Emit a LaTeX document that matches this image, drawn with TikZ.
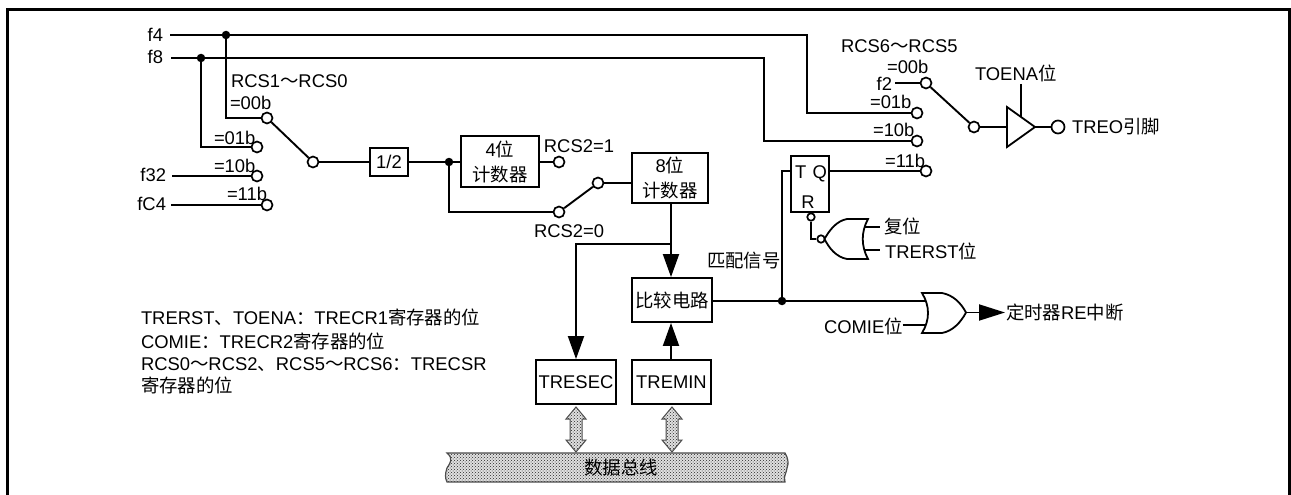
\documentclass[tikz,border=0pt]{standalone}
\usepackage{fontspec}
\setmainfont{Liberation Sans}
\newfontfamily\cjk{Noto Sans CJK SC}
\newcommand\zh[1]{{\cjk #1}}
\usetikzlibrary{arrows.meta,patterns}
\tikzset{
  x=1pt,y=-1pt,
  wire/.style={line width=1.9pt,line join=miter},
  lbl/.style={inner sep=0pt,outer sep=0pt,font=\fontsize{18.4}{25}\selectfont},
  lw/.style={lbl,anchor=base west},
  le/.style={lbl,anchor=base east},
  sw/.style={circle,draw,line width=1.7pt,fill=white,inner sep=0pt,minimum size=11pt},
  swsmall/.style={circle,draw,line width=1.7pt,fill=white,inner sep=0pt,minimum size=7.5pt},
  swbig/.style={circle,draw,line width=1.7pt,fill=white,inner sep=0pt,minimum size=13pt},
  dot/.style={circle,fill=black,inner sep=0pt,minimum size=8.5pt},
  jn/.style={inner sep=0pt,minimum size=0pt,outer sep=0pt},
  blk/.style={draw,line width=1.9pt,fill=white,inner sep=0pt,align=center,font=\fontsize{18.4}{25}\selectfont},
  head/.style={-{Triangle[width=16pt,length=23pt]}},
  dots/.style={draw=black!70,line width=1.2pt,preaction={fill=black!12},pattern=crosshatch dots,pattern color=black!85},
}
\begin{document}
\begin{tikzpicture}
\useasboundingbox (0,0) rectangle (1291,495);
\fill[white] (0,0) rectangle (1291,495);
\draw[line width=3pt,miter limit=10] (7.5,495) -- (7.5,9.5) -- (1289.8,9.5) -- (1289.8,495);

% clock inputs
\node[le] (tf4) at (163,42) {f4};
\node[le] (tf8) at (163,64) {f8};
\node[le] (tf32) at (166,181) {f32};
\node[le] (tfc4) at (166,210) {fC4};
\coordinate (f4s) at (170,35);
\coordinate (f8s) at (171,58);
\coordinate (f4a) at (807,35);
\coordinate (f8a) at (764,58);
\node[dot] (d4) at (226,35) {};
\node[dot] (d8) at (201,58) {};

% first selector
\node[sw] (a00) at (267,118) {};
\node[sw] (a01) at (257,147) {};
\node[sw] (a10) at (257,176) {};
\node[sw] (a11) at (267,205) {};
\node[sw] (acom) at (313,162) {};
\coordinate (s32) at (172,176);
\coordinate (sc4) at (171,205);
\draw[wire] (f4s) -- (d4);
\draw[wire] (f8s) -- (d8);
\draw[wire] (d4) |- (a00);
\draw[wire] (d8) |- (a01);
\draw[wire] (s32) -- (a10);
\draw[wire] (sc4) -- (a11);
\draw[wire] (a00) -- (acom);
\node[lw] (l1) at (231,88) {RCS1\zh{～}RCS0};
\node[lw] (l2) at (230,110) {=00b};
\node[lw] (l3) at (214,144) {=01b};
\node[lw] (l4) at (214,172) {=10b};
\node[lw] (l5) at (227,200) {=11b};

% divider and counters
\node[blk,minimum width=38pt,minimum height=28pt] (half) at (389,162) {1/2};
\node[dot] (d2) at (449,162) {};
\node[blk,minimum width=78pt,minimum height=51pt] (c4) at (500,161.5) {4\zh{位}\\\zh{计数器}};
\node[sw] (r1) at (559,162) {};
\node[le] (lr1) at (614,152) {RCS2=1};
\node[sw] (r0) at (559,212) {};
\node[sw] (rc) at (598,183) {};
\node[lw] (lr0) at (534,237) {RCS2=0};
\node[blk,minimum width=76pt,minimum height=50pt] (c8) at (670,178) {8\zh{位}\\\zh{计数器}};
\draw[wire] (acom) -- (half);
\draw[wire] (half) -- (d2);
\draw[wire] (d2) -- (c4.west |- d2);
\draw[wire] (c4.east |- r1) -- (r1);
\draw[wire] (d2) |- (r0);
\draw[wire] (r0) -- (rc);
\draw[wire] (rc) -- (c8.west |- rc);

% compare circuit
\node[blk,minimum width=80pt,minimum height=44pt] (cmp) at (672,300) {\zh{比较电路}};
\node[blk,minimum width=80pt,minimum height=44pt] (sec) at (576,382) {TRESEC};
\node[blk,minimum width=79pt,minimum height=44pt] (min) at (671.5,382) {TREMIN};
\coordinate (br) at (671,244);
\draw[wire,head] (c8.south -| br) -- (cmp.north -| br);
\draw[wire,head] (br) -| (sec.north);
\draw[wire,head] (min.north -| br) -- (cmp.south -| br);
\node[lw] (lm) at (707,267) {\zh{匹配信号}};

% data bus
\draw[dots] (447,453) .. controls (454,459) and (450,463) .. (447,468) .. controls (445,474) and (445,478) .. (447,482)
  -- (785,482) .. controls (783,476) and (787,472) .. (787,468) .. controls (789,463) and (788,458) .. (785,453) -- cycle;
\node[lbl] (bus) at (621,468) {\zh{数据总线}};
\draw[dots,line width=1pt] (576,407) -- (586,419) -- (582,419) -- (582,440) -- (586,440) -- (576,452)
  -- (566,440) -- (570,440) -- (570,419) -- (566,419) -- cycle;
\draw[dots,line width=1pt] (672,407) -- (682,419) -- (678,419) -- (678,440) -- (682,440) -- (672,452)
  -- (662,440) -- (666,440) -- (666,419) -- (662,419) -- cycle;

% flip-flop
\node[draw,line width=1.9pt,fill=white,minimum width=38pt,minimum height=56pt,inner sep=0pt] (ff) at (810,184) {};
\node[lw] (lt) at (795,178) {T};
\node[le] (lq) at (827,178) {Q};
\node[lbl] (lrr) at (808,202) {R};
\node[swsmall] (ffr) at (811,217) {};
\node[swsmall] (nr) at (821,239) {};
\node[dot] (d3) at (782,301) {};
\coordinate (ffT) at (791,171);
\coordinate (ffQ) at (829,171);
\draw[wire] (cmp.east |- d3) -- (d3);
\draw[wire] (d3) |- (ffT);
\draw[wire] (ffr) |- (nr);

% NOR gate
\draw[line width=1.8pt,fill=white] (868,219) -- (847,219) .. controls (836,221) and (829,231) .. (824.5,239)
  .. controls (829,248) and (836,257) .. (847,259) -- (868,259)
  .. controls (861,246) and (861,232) .. (868,219) -- cycle;
\coordinate (n1) at (864,227);
\coordinate (n2) at (864,250);
\coordinate (n1e) at (880,227);
\coordinate (n2e) at (880,250);
\draw[wire] (n1) -- (n1e);
\draw[wire] (n2) -- (n2e);
\node[lw] (lrst) at (884,233) {\zh{复位}};
\node[lw] (ltr) at (885,258) {TRERST\zh{位}};

% OR gate
\coordinate (o1) at (925,301);
\coordinate (o2) at (925,325);
\coordinate (oo) at (966,312.5);
\draw[wire] (d3) -- (o1);
\node[lw] (lc) at (824,333) {COMIE\zh{位}};
\draw[wire] (lc.east |- o2) -- (o2);
\draw[line width=1.8pt,fill=white] (922,293) -- (942,293) .. controls (953,295) and (961,303) .. (966,312.5)
  .. controls (961,322) and (953,331) .. (942,333) -- (922,333)
  .. controls (930,320) and (930,306) .. (922,293) -- cycle;
\coordinate (oe) at (1005,312.5);
\draw[wire,-{Triangle[width=16pt,length=26pt]}] (oo) -- (oe);
\node[lw] (lint) at (1006,319) {\zh{定时器}RE\zh{中断}};

% output selector
\node[lw] (l6) at (841,53) {RCS6\zh{～}RCS5};
\node[lw] (l7) at (887,74) {=00b};
\node[le] (lf2) at (892,90) {f2};
\node[lw] (l8) at (870,108) {=01b};
\node[lw] (l9) at (873,136) {=10b};
\node[lw] (l10) at (885,167) {=11b};
\node[sw] (b00) at (926,83) {};
\node[sw] (b01) at (917,113) {};
\node[sw] (b10) at (917,141) {};
\node[sw] (b11) at (926,171) {};
\node[sw] (bcom) at (974,127) {};
\coordinate (f2s) at (895,83);
\draw[wire] (f2s) -- (b00);
\draw[wire] (d4) -- (f4a) |- (b01);
\draw[wire] (d8) -- (f8a) |- (b10);
\draw[wire] (ffQ) -- (b11);
\draw[wire] (b00) -- (bcom);

% output buffer
\coordinate (bi) at (1007,127);
\coordinate (bo) at (1035,127);
\coordinate (be) at (1021,117);
\coordinate (bt) at (1021,84);
\node[swbig] (pin) at (1058,127) {};
\draw[wire] (bcom) -- (bi);
\draw[wire] (bo) -- (pin);
\draw[wire] (bt) -- (be);
\draw[line width=1.8pt,fill=white] (1007,107) -- (bo) -- (1007,147) -- cycle;
\node[lw] (lto) at (975,81) {TOENA\zh{位}};
\node[lw] (ltreo) at (1072,133) {TREO\zh{引脚}};

% notes
\node[lw] (n1t) at (141,324) {TRERST\zh{、}TOENA\zh{：}TRECR1\zh{寄存器的位}};
\node[lw] (n2t) at (141,348) {COMIE\zh{：}TRECR2\zh{寄存器的位}};
\node[lw] (n3t) at (141,370) {RCS0\zh{～}RCS2\zh{、}RCS5\zh{～}RCS6\zh{：}TRECSR};
\node[lw] (n4t) at (141,392) {\zh{寄存器的位}};
\end{tikzpicture}
\end{document}
